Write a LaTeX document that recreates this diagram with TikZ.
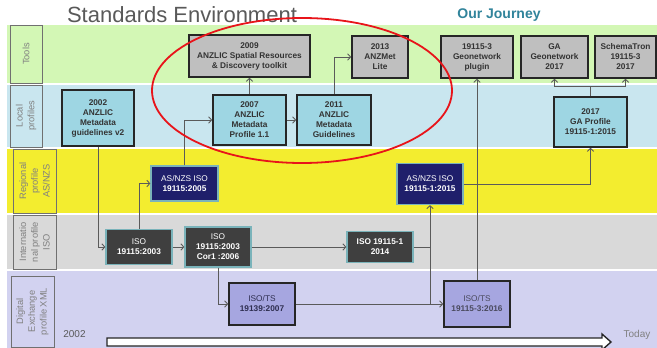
\documentclass[tikz,border=0pt]{standalone}
\usepackage{fontspec}
\setmainfont{Liberation Sans}
\usetikzlibrary{arrows.meta}
\definecolor{bgtools}{HTML}{D3F7B5}
\definecolor{bglocal}{HTML}{C9E6EF}
\definecolor{bgreg}{HTML}{F3ED2F}
\definecolor{bgint}{HTML}{D9D9D9}
\definecolor{bgdig}{HTML}{D2D2F0}
\definecolor{toolfill}{HTML}{BFBFBF}
\definecolor{localfill}{HTML}{9ED6E3}
\definecolor{navybox}{HTML}{1F1F6B}
\definecolor{darkbox}{HTML}{3F3F3F}
\definecolor{tealedge}{HTML}{7AB3BA}
\definecolor{digfill}{HTML}{A6A6E0}
\definecolor{edgecol}{HTML}{262626}
\definecolor{conncol}{HTML}{5A5A5A}
\definecolor{labeltext}{HTML}{808080}
\definecolor{labeledge}{HTML}{707070}
\definecolor{journey}{HTML}{31849B}
\definecolor{titlegray}{HTML}{595959}
\definecolor{ellred}{HTML}{E8141A}
\definecolor{boxtext}{HTML}{333333}
\definecolor{digtext}{HTML}{2E2E50}
\definecolor{digtextlight}{HTML}{4A4A5E}
\tikzset{
  bx/.style 2 args={minimum width=#1pt, minimum height=#2pt},
  box/.style={draw=edgecol, line width=1.6pt, inner sep=0pt, align=center,
    font=\fontsize{8.3}{10}\selectfont\bfseries},
  toolbox/.style={box, fill=toolfill, text=boxtext},
  localbox/.style={box, fill=localfill, text=boxtext},
  navbox/.style={box, fill=navybox, draw=tealedge, line width=1.2pt, text=white},
  darkbx/.style={box, fill=darkbox, draw=tealedge, line width=1.2pt, text=white},
  digbox/.style={box, fill=digfill, text=digtext},
  lanelabel/.style={draw=labeledge, line width=0.8pt, rotate=90, inner sep=0pt,
    align=center, text=labeltext, font=\fontsize{9.3}{11.8}\selectfont},
  cn/.style={draw=conncol, line width=0.9pt, -{Straight Barb[length=3pt,width=6.5pt]}},
  ln/.style={draw=conncol, line width=0.9pt},
}
\begin{document}
\begin{tikzpicture}[x=1pt,y=-1pt]
\useasboundingbox (0,0) rectangle (657,348);
\fill[white] (0,0) rectangle (657,348);
% bands
\fill[bgtools] (7,25) rectangle (657,83);
\fill[bglocal] (7,85) rectangle (657,147);
\fill[bgreg] (7,149) rectangle (657,213);
\fill[bgint] (7,215) rectangle (657,269);
\fill[bgdig] (7,271) rectangle (657,348);
% titles
\node[anchor=base, font=\fontsize{22}{26}\selectfont, text=titlegray, inner sep=0pt] (title) at (182,23) {Standards Environment};
\node[anchor=base, font=\fontsize{14}{16}\selectfont\bfseries, text=journey, inner sep=0pt] (journeytitle) at (499,18.5) {Our Journey};
% lane labels
\node[lanelabel, minimum width=58pt, minimum height=32pt] (ltools) at (26,54) {Tools};
\node[lanelabel, minimum width=62pt, minimum height=32pt] (llocal) at (26,116) {Local\\profiles};
\node[lanelabel, minimum width=64pt, minimum height=43pt] (lreg) at (34.5,181) {Regional\\profile\\AS/NZS};
\node[lanelabel, minimum width=54pt, minimum height=43pt] (lint) at (34.5,242) {Internatio\\nal profile\\ISO};
\node[lanelabel, minimum width=71pt, minimum height=43pt] (ldig) at (32.5,311.5) {Digital\\Exchange\\profile XML};
% tools
\node[toolbox, bx={121}{42}] (toolkit) at (249.5,56) {2009\\ANZLIC Spatial Resources\\\& Discovery toolkit};
\node[toolbox, bx={56}{42}] (anzmet) at (380,57) {2013\\ANZMet\\Lite};
\node[toolbox, bx={72}{42}] (geoplugin) at (477,57) {19115-3\\Geonetwork\\plugin};
\node[toolbox, bx={67}{42}] (gageo) at (554.5,57) {GA\\Geonetwork\\2017};
\node[toolbox, bx={61}{42}] (schematron) at (625.5,57) {SchemaTron\\19115-3\\2017};
% local
\node[localbox, bx={72}{56}] (anzlic2002) at (98,118) {2002\\ANZLIC\\Metadata\\guidelines v2};
\node[localbox, bx={73}{50}] (anzlic2007) at (249.5,120) {2007\\ANZLIC\\Metadata\\Profile 1.1};
\node[localbox, bx={74}{50}] (anzlic2011) at (334,120) {2011\\ANZLIC\\Metadata\\Guidelines};
\node[localbox, bx={73}{50}] (gaprofile) at (590.5,122) {2017\\GA Profile\\19115-1:2015};
% regional
\node[navbox, bx={67}{35}] (asnzs2005) at (184.5,183.5) {{\mdseries AS/NZS ISO}\\19115:2005};
\node[navbox, bx={66}{41}] (asnzs2015) at (430,184) {{\mdseries AS/NZS ISO}\\19115-1:2015};
% international
\node[darkbx, bx={66}{35}] (iso2003) at (139,247) {{\mdseries ISO}\\19115:2003};
\node[darkbx, bx={66}{40}] (cor1) at (218,247) {{\mdseries ISO}\\19115:2003\\Cor1 :2006};
\node[darkbx, bx={66}{31}] (iso2014) at (380,247) {ISO 19115-1\\2014};
% digital
\node[digbox, bx={66}{42}] (iso19139) at (262,304) {{\mdseries ISO/TS}\\19139:2007};
\node[digbox, bx={66}{46}, text=digtextlight] (iso191153) at (477,304) {{\mdseries ISO/TS}\\19115-3:2016};
% connectors
\draw[cn] (anzlic2002.south) |- (iso2003.west);
\draw[cn] (iso2003.north) |- (asnzs2005.west);
\draw[cn] (iso2003.east) -- (cor1.west);
\draw[cn] (asnzs2005.north) |- (anzlic2007.west);
\draw[cn] (anzlic2007.north) -- (toolkit.south);
\draw[cn] (anzlic2007.east) -- (anzlic2011.west);
\draw[cn] (anzlic2011.north) |- (anzmet.west);
\draw[cn] (cor1.east) -- (iso2014.west);
\draw[cn] (cor1.south) |- (iso19139.west);
\draw[cn] (iso19139.east) -- (iso191153.west);
\draw[cn] (iso2014.east) -| (asnzs2015.south);
\coordinate (j1) at (iso2014.east -| asnzs2015.south);
\draw[ln] (j1) -- (j1 |- iso191153.west);
\draw[cn] (iso191153.north) -- (geoplugin.south);
\draw[cn] (asnzs2015.east) -| (gaprofile.south);
\draw[ln] (gaprofile.north) -- ++(0,-10) coordinate (j2);
\draw[cn] (j2) -| (gageo.south);
\draw[cn] (j2) -| (schematron.south);
% red ellipse
\draw[ellred, line width=1.8pt] (302,90.5) ellipse [x radius=150, y radius=72.5];
% timeline
\draw[draw=edgecol, line width=1.4pt, fill=white, line join=miter]
  (107,338) -- (602,338) -- (602,334) -- (611,342) -- (602,350) -- (602,346) -- (107,346) -- cycle;
\node[anchor=base, font=\fontsize{10}{12}\selectfont, text=titlegray, inner sep=0pt] (y2002) at (74.5,337) {2002};
\node[anchor=base, font=\fontsize{10}{12}\selectfont, text=labeltext, inner sep=0pt] (today) at (637,337) {Today};
\end{tikzpicture}
\end{document}
